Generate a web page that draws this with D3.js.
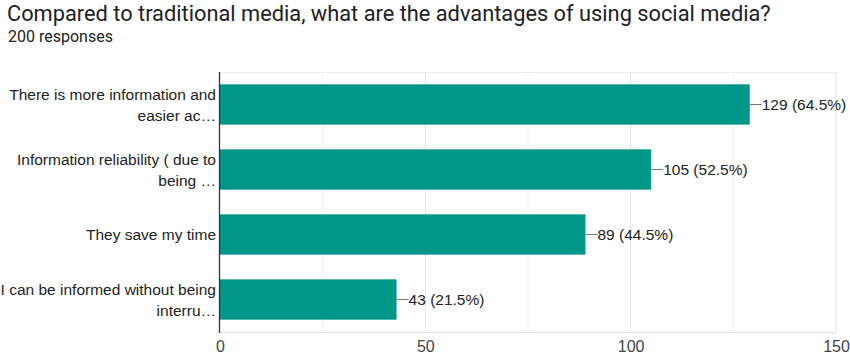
<!DOCTYPE html>
<html><head><meta charset="utf-8">
<script src="https://cdn.jsdelivr.net/npm/d3@7"></script>
<style>body{margin:0;background:#fff}svg{display:block}</style>
</head><body>
<svg id="c" width="850" height="355"></svg>
<script>
const title = "Compared to traditional media, what are the advantages of using social media?";
const subtitle = "200 responses";
const categories = [
  ["There is more information and", "easier ac…"],
  ["Information reliability ( due to", "being …"],
  ["They save my time"],
  ["I can be informed without being", "interru…"]
];
const values = [129, 105, 89, 43];
const percents = ["64.5%", "52.5%", "44.5%", "21.5%"];
const ticks = [0, 50, 100, 150];
const gridTicks = [25, 50, 75, 100, 125, 150];

const svg = d3.select("#c");
const m = {left: 220, right: 836, top: 72, bottom: 332};
const x = d3.scaleLinear().domain([0, 150]).range([m.left, m.right]);
const y = d3.scaleBand().domain(d3.range(values.length)).range([m.top, m.bottom]).paddingInner(0.38).paddingOuter(0.19);
const F = "'Liberation Sans', Arial, sans-serif";

svg.append("text").attr("x", 7).attr("y", 21).attr("font-family", "Roboto, sans-serif")
  .attr("font-size", 21.8).attr("fill", "#202124").text(title);
svg.append("text").attr("x", 8).attr("y", 42).attr("font-family", "Roboto, sans-serif")
  .attr("font-size", 16).attr("fill", "#202124").text(subtitle);

// grid
svg.append("g").selectAll("line").data(gridTicks).join("line")
  .attr("x1", d => x(d)).attr("x2", d => x(d)).attr("y1", m.top).attr("y2", m.bottom)
  .attr("stroke", d => d % 50 === 0 ? "#e2e2e2" : "#efefef").attr("stroke-width", 1);
svg.append("line").attr("x1", m.left).attr("x2", m.right).attr("y1", m.top + 0.5).attr("y2", m.top + 0.5).attr("stroke", "#ececec");
svg.append("line").attr("x1", m.left).attr("x2", m.right).attr("y1", m.bottom + 0.5).attr("y2", m.bottom + 0.5).attr("stroke", "#e0e0e0");

// bars
svg.append("g").selectAll("rect").data(values).join("rect")
  .attr("x", x(0)).attr("y", (d, i) => y(i)).attr("width", d => x(d) - x(0)).attr("height", y.bandwidth())
  .attr("fill", "#009688");

// value labels with leader
const lab = svg.append("g");
values.forEach((v, i) => {
  const yc = y(i) + y.bandwidth() / 2;
  lab.append("line").attr("x1", x(v)).attr("x2", x(v) + 12).attr("y1", yc).attr("y2", yc).attr("stroke", "#777").attr("stroke-width", 1);
  lab.append("text").attr("x", x(v) + 12).attr("y", yc + 5.5).attr("font-family", F)
    .attr("font-size", 15.5).attr("fill", "#222").text(`${v} (${percents[i]})`);
});

// category labels
const cl = svg.append("g").attr("font-family", F).attr("font-size", 15.5).attr("fill", "#222").attr("text-anchor", "end");
categories.forEach((lines, i) => {
  const yc = y(i) + y.bandwidth() / 2;
  const lh = 21;
  const start = yc - (lines.length - 1) * lh / 2 + 5.5;
  lines.forEach((t, j) => {
    cl.append("text").attr("x", m.left - 4).attr("y", start + j * lh).text(t);
  });
});

// axis line
svg.append("line").attr("x1", m.left - 0.5).attr("x2", m.left - 0.5).attr("y1", m.top).attr("y2", m.bottom + 1).attr("stroke", "#333").attr("stroke-width", 1.3);

// x tick labels
const xa = d3.axisBottom(x).tickValues(ticks).tickSize(0).tickPadding(0);
const gx = svg.append("g").attr("transform", `translate(0,${m.bottom + 6})`).call(xa);
gx.select(".domain").remove();
gx.selectAll("text").attr("font-family", F).attr("font-size", 16).attr("fill", "#444").attr("dy", "0.9em");
</script>
</body></html>
